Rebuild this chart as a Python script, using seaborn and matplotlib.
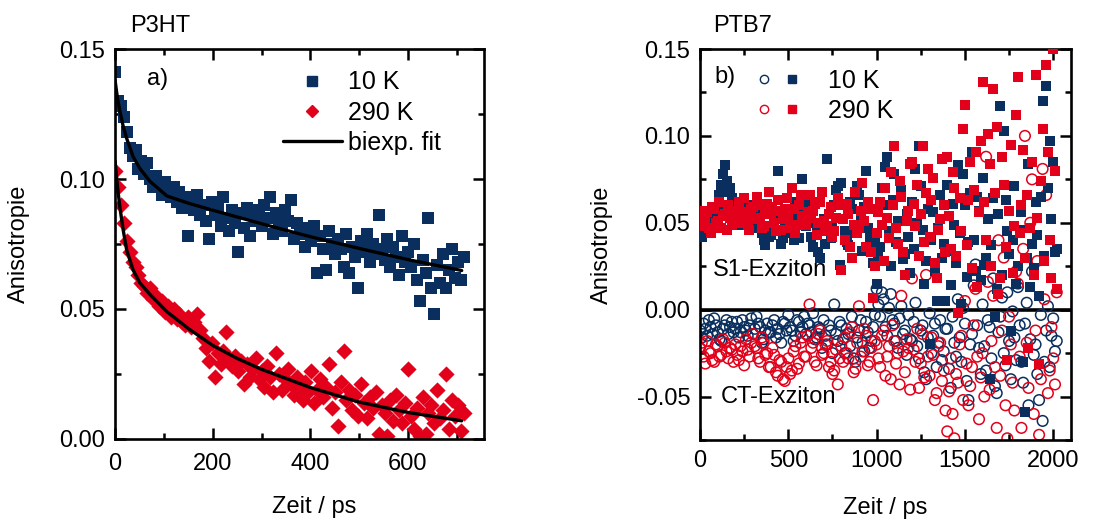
import numpy as np
import matplotlib
matplotlib.use("Agg")
import matplotlib.pyplot as plt
from matplotlib.lines import Line2D
from matplotlib.legend_handler import HandlerTuple
from matplotlib.ticker import MultipleLocator, FormatStrFormatter
import seaborn as sns

### Daten: P3HT (Panel a) ###
t_a = [0, 6, 12, 18, 24, 30, 36, 42, 48, 54,
       60, 66, 72, 78, 84, 90, 96, 102, 108, 114,
       120, 126, 132, 138, 144, 150, 156, 162, 168, 174,
       180, 186, 192, 198, 204, 210, 216, 222, 228, 234,
       240, 246, 252, 258, 264, 270, 276, 282, 288, 294,
       300, 306, 312, 318, 324, 330, 336, 342, 348, 354,
       360, 366, 372, 378, 384, 390, 396, 402, 408, 414,
       420, 426, 432, 438, 444, 450, 456, 462, 468, 474,
       480, 486, 492, 498, 504, 510, 516, 522, 528, 534,
       540, 546, 552, 558, 564, 570, 576, 582, 588, 594,
       600, 606, 612, 618, 624, 630, 636, 642, 648, 654,
       660, 666, 672, 678, 684, 690, 696, 702, 708, 714]

p3ht_10K = [0.141, 0.130, 0.128, 0.124, 0.118, 0.112, 0.109, 0.111, 0.104, 0.107,
            0.102, 0.106, 0.100, 0.097, 0.101, 0.098, 0.094, 0.099, 0.096, 0.093,
            0.097, 0.091, 0.095, 0.089, 0.093, 0.078, 0.092, 0.088, 0.094, 0.086,
            0.090, 0.084, 0.077, 0.091, 0.086, 0.089, 0.082, 0.093, 0.085, 0.080,
            0.088, 0.083, 0.072, 0.087, 0.081, 0.089, 0.078, 0.086, 0.084, 0.088,
            0.082, 0.090, 0.085, 0.093, 0.079, 0.087, 0.083, 0.080, 0.088, 0.084,
            0.092, 0.077, 0.083, 0.079, 0.081, 0.074, 0.080, 0.076, 0.082, 0.064,
            0.078, 0.073, 0.065, 0.080, 0.075, 0.071, 0.077, 0.073, 0.066, 0.079,
            0.064, 0.074, 0.070, 0.058, 0.076, 0.072, 0.079, 0.068, 0.075, 0.071,
            0.086, 0.073, 0.069, 0.077, 0.066, 0.074, 0.070, 0.063, 0.078, 0.068,
            0.072, 0.066, 0.075, 0.061, 0.053, 0.069, 0.064, 0.085, 0.058, 0.048,
            0.067, 0.060, 0.071, 0.058, 0.065, 0.073, 0.062, 0.068, 0.061, 0.070]

p3ht_290K = [0.103, 0.097, 0.090, 0.083, 0.076, 0.072, 0.068, 0.066, 0.063, 0.060,
             0.059, 0.056, 0.058, 0.054, 0.055, 0.051, 0.053, 0.049, 0.051, 0.047,
             0.050, 0.046, 0.048, 0.045, 0.044, 0.047, 0.043, 0.045, 0.048, 0.042,
             0.039, 0.035, 0.030, 0.037, 0.024, 0.033, 0.029, 0.034, 0.041, 0.031,
             0.028, 0.032, 0.026, 0.030, 0.021, 0.029, 0.024, 0.027, 0.031, 0.023,
             0.026, 0.020, 0.028, 0.024, 0.018, 0.033, 0.025, 0.019, 0.023, 0.027,
             0.021, 0.017, 0.024, 0.020, 0.015, 0.022, 0.018, 0.026, 0.014, 0.019,
             0.023, 0.016, 0.020, 0.029, 0.012, 0.018, 0.005, 0.022, 0.034, 0.015,
             0.019, 0.011, 0.017, 0.009, 0.021, 0.014, 0.008, 0.016, 0.012, 0.018,
             0.002, 0.013, 0.010, 0.001, 0.015, 0.007, 0.017, 0.011, 0.006, 0.014,
             0.027, 0.009, 0.004, 0.012, 0.001, 0.016, 0.002, 0.010, 0.013, 0.006,
             0.019, 0.008, 0.011, 0.025, 0.004, 0.015, 0.009, 0.013, 0.003, 0.010]

# biexponentieller Fit
t_fit = [0, 5, 10, 17, 24, 37, 51, 72, 106, 150, 200, 250, 300, 400, 500, 600, 710]
fit_10K = [0.138, 0.131, 0.126, 0.120, 0.1155, 0.1086, 0.104, 0.099, 0.0935, 0.0907,
           0.0880, 0.0854, 0.0828, 0.0778, 0.0733, 0.0690, 0.0648]
fit_290K = [0.107, 0.097, 0.089, 0.080, 0.0725, 0.065, 0.060, 0.0555, 0.049, 0.0425,
            0.0360, 0.0310, 0.0268, 0.0198, 0.0142, 0.0102, 0.0070]

### Daten: PTB7 (Panel b), 10 ps Raster ###
t_b = [0, 10, 20, 30, 40, 50, 60, 70, 80, 90, 100, 110, 120, 130, 140, 150, 160, 170, 180, 190,
       200, 210, 220, 230, 240, 250, 260, 270, 280, 290, 300, 310, 320, 330, 340, 350, 360, 370, 380, 390,
       400, 410, 420, 430, 440, 450, 460, 470, 480, 490, 500, 510, 520, 530, 540, 550, 560, 570, 580, 590,
       600, 610, 620, 630, 640, 650, 660, 670, 680, 690, 700, 710, 720, 730, 740, 750, 760, 770, 780, 790,
       800, 810, 820, 830, 840, 850, 860, 870, 880, 890, 900, 910, 920, 930, 940, 950, 960, 970, 980, 990,
       1000, 1010, 1020, 1030, 1040, 1050, 1060, 1070, 1080, 1090,
       1100, 1110, 1120, 1130, 1140, 1150, 1160, 1170, 1180, 1190,
       1200, 1210, 1220, 1230, 1240, 1250, 1260, 1270, 1280, 1290,
       1300, 1310, 1320, 1330, 1340, 1350, 1360, 1370, 1380, 1390,
       1400, 1410, 1420, 1430, 1440, 1450, 1460, 1470, 1480, 1490,
       1500, 1510, 1520, 1530, 1540, 1550, 1560, 1570, 1580, 1590,
       1600, 1610, 1620, 1630, 1640, 1650, 1660, 1670, 1680, 1690,
       1700, 1710, 1720, 1730, 1740, 1750, 1760, 1770, 1780, 1790,
       1800, 1810, 1820, 1830, 1840, 1850, 1860, 1870, 1880, 1890,
       1900, 1910, 1920, 1930, 1940, 1950, 1960, 1970, 1980, 1990,
       2000, 2010, 2020]

# S1-Exziton (gefuellte Quadrate)
s1_10K = [0.047, 0.042, 0.052, 0.049, 0.045, 0.051, 0.055, 0.053, 0.050, 0.057,
          0.058, 0.066, 0.072, 0.078, 0.083, 0.074, 0.068, 0.070, 0.064, 0.059,
          0.055, 0.061, 0.049, 0.053, 0.058, 0.063, 0.052, 0.056, 0.060, 0.050,
          0.047, 0.055, 0.054, 0.048, 0.051, 0.044, 0.040, 0.037, 0.046, 0.042,
          0.043, 0.048, 0.056, 0.052, 0.080, 0.045, 0.038, 0.041, 0.050, 0.055,
          0.044, 0.047, 0.058, 0.040, 0.062, 0.053, 0.041, 0.057, 0.075, 0.049,
          0.048, 0.060, 0.055, 0.042, 0.036, 0.050, 0.044, 0.033, 0.030, 0.046,
          0.052, 0.038, 0.087, 0.055, 0.041, 0.048, 0.060, 0.069, 0.071, 0.026,
          0.073, 0.052, 0.045, 0.039, 0.037, 0.062, 0.058, 0.044, 0.049, 0.071,
          0.066, 0.051, 0.034, 0.059, 0.080, 0.047, 0.042, 0.035, 0.027, 0.040,
          0.015, 0.031, 0.036, 0.070, 0.060, 0.082, 0.088, 0.045, 0.025, 0.063,
          0.078, 0.039, 0.051, 0.074, 0.069, 0.029, 0.032, 0.055, 0.042, 0.021,
          0.062, 0.035, 0.081, 0.050, 0.094, 0.071, 0.046, 0.015, 0.028, 0.058,
          -0.020, 0.040, 0.056, 0.022, 0.005, 0.047, 0.066, 0.030, 0.038, 0.005,
          0.072, 0.034, 0.014, 0.061, 0.049, 0.027, 0.083, 0.044, 0.003, 0.078,
          0.060, 0.019, 0.039, 0.067, 0.091, 0.040, 0.022, 0.065, 0.057, 0.017,
          0.076, 0.026, 0.030, 0.052, -0.040, 0.037, 0.064, -0.004, 0.012, 0.055,
          0.117, 0.020, 0.103, 0.063, 0.045, 0.032, -0.012, 0.040, 0.071, 0.015,
          0.025, 0.046, 0.056, -0.030, -0.059, 0.030, 0.084, 0.013, 0.038, 0.024,
          0.062, 0.043, 0.008, 0.065, 0.120, 0.031, 0.129, 0.070, 0.097, 0.052,
          0.085, 0.033, 0.035]

s1_290K = [0.052, 0.057, 0.048, 0.053, 0.056, 0.047, 0.044, 0.059, 0.058, 0.050,
           0.051, 0.062, 0.047, 0.054, 0.055, 0.046, 0.060, 0.053, 0.049, 0.057,
           0.057, 0.051, 0.062, 0.056, 0.050, 0.064, 0.054, 0.049, 0.046, 0.058,
           0.059, 0.052, 0.065, 0.060, 0.053, 0.047, 0.048, 0.055, 0.061, 0.068,
           0.055, 0.059, 0.050, 0.045, 0.063, 0.057, 0.046, 0.052, 0.058, 0.064,
           0.052, 0.047, 0.070, 0.058, 0.044, 0.049, 0.060, 0.066, 0.054, 0.050,
           0.049, 0.056, 0.066, 0.053, 0.057, 0.061, 0.043, 0.050, 0.062, 0.068,
           0.051, 0.045, 0.048, 0.055, 0.059, 0.042, 0.045, 0.053, 0.064, 0.060,
           0.023, 0.052, 0.040, 0.061, 0.055, 0.036, 0.030, 0.049, 0.068, 0.044,
           0.047, 0.057, 0.073, 0.051, 0.036, 0.062, 0.058, 0.033, 0.007, 0.025,
           0.044, 0.056, 0.062, 0.049, 0.028, 0.070, 0.053, 0.041, 0.079, 0.060,
           0.094, 0.047, 0.038, 0.074, 0.065, 0.033, 0.020, 0.051, 0.057, 0.084,
           0.085, 0.061, 0.048, 0.072, 0.031, 0.055, 0.094, 0.039, 0.067, 0.081,
           0.042, 0.063, 0.076, 0.027, 0.018, 0.046, 0.052, 0.087, 0.060, 0.033,
           0.088, 0.054, 0.035, 0.079, 0.070, 0.031, -0.002, 0.064, 0.045, 0.104,
           0.118, 0.037, 0.063, 0.085, 0.024, 0.069, 0.091, 0.013, 0.056, 0.097,
           0.131, 0.062, 0.040, 0.101, 0.084, 0.025, 0.127, 0.067, 0.105, 0.009,
           0.018, 0.088, 0.072, 0.036, -0.029, 0.057, 0.095, 0.021, 0.048, 0.112,
           0.134, 0.044, 0.060, 0.092, 0.030, 0.066, -0.022, 0.047, 0.085, 0.020,
           0.135, 0.053, -0.031, 0.074, 0.104, 0.028, 0.141, 0.091, 0.040, 0.018,
           0.150, 0.080, 0.012]

# CT-Exziton (offene Kreise)
ct_10K = [-0.012, -0.016, -0.008, -0.011, -0.015, -0.006, -0.010, -0.014, -0.005, -0.009,
          -0.013, -0.017, -0.018, -0.011, -0.009, -0.006, -0.014, -0.010, -0.007, -0.013,
          -0.011, -0.007, -0.016, -0.013, -0.006, -0.010, -0.012, -0.015, -0.009, -0.005,
          -0.014, -0.011, -0.004, -0.008, -0.010, -0.019, -0.017, -0.012, -0.008, -0.013,
          -0.013, -0.009, -0.006, -0.016, -0.011, -0.014, -0.019, -0.007, -0.008, -0.012,
          -0.003, -0.010, -0.012, -0.018, -0.015, -0.006, -0.007, -0.013, -0.010, -0.004,
          -0.014, -0.008, -0.009, -0.013, -0.002, -0.017, -0.016, -0.010, -0.011, -0.022,
          -0.006, -0.015, -0.020, -0.009, -0.012, -0.025, 0.003, -0.014, -0.018, -0.007,
          -0.009, -0.017, -0.025, -0.011, -0.014, -0.021, -0.004, -0.028, -0.030, -0.016,
          -0.012, -0.006, -0.019, -0.024, -0.007, -0.013, -0.022, -0.018, -0.010, -0.003,
          0.012, 0.003, -0.004, 0.010, 0.006, -0.010, -0.015, 0.001, 0.009, -0.006,
          -0.008, -0.018, -0.022, -0.005, 0.002, -0.014, -0.012, -0.026, -0.003, -0.017,
          -0.018, -0.007, 0.004, -0.021, -0.028, -0.012, -0.009, -0.036, -0.040, -0.016,
          -0.002, -0.025, -0.015, -0.008, -0.033, -0.019, -0.006, -0.029, -0.024, -0.011,
          -0.011, -0.034, -0.045, -0.004, -0.019, -0.027, 0.006, -0.016, -0.030, 0.001,
          -0.008, -0.041, -0.052, -0.020, -0.014, 0.014, 0.026, -0.009, -0.022, -0.037,
          0.003, -0.021, -0.035, -0.006, -0.010, -0.028, 0.018, -0.044, -0.048, -0.013,
          -0.004, 0.007, -0.025, -0.032, 0.010, -0.018, -0.040, -0.001, -0.016, -0.029,
          0.013, -0.009, -0.030, -0.042, -0.008, 0.004, -0.055, -0.017, 0.022, -0.026,
          -0.020, -0.037, -0.052, -0.003, -0.064, -0.030, -0.012, 0.002, -0.033, -0.015,
          -0.005, -0.024, -0.018]

ct_290K = [-0.022, -0.019, -0.027, -0.031, -0.018, -0.024, -0.025, -0.029, -0.030, -0.020,
           -0.021, -0.027, -0.026, -0.017, -0.019, -0.024, -0.028, -0.022, -0.023, -0.030,
           -0.020, -0.026, -0.029, -0.021, -0.024, -0.032, -0.017, -0.023, -0.027, -0.019,
           -0.014, -0.021, -0.022, -0.028, -0.030, -0.016, -0.019, -0.026, -0.025, -0.033,
           -0.033, -0.022, -0.026, -0.036, -0.038, -0.029, -0.030, -0.040, -0.041, -0.033,
           -0.028, -0.037, -0.035, -0.024, -0.021, -0.034, -0.031, -0.019, -0.016, -0.027,
           -0.027, -0.015, 0.003, -0.022, -0.019, -0.030, -0.032, -0.014, -0.012, -0.026,
           -0.025, -0.020, -0.018, -0.033, -0.030, -0.037, -0.035, -0.023, -0.043, -0.028,
           -0.021, -0.030, -0.016, -0.025, -0.028, -0.013, -0.010, -0.036, -0.034, -0.019,
           0.002, -0.027, -0.024, -0.011, -0.015, -0.032, -0.030, -0.022, -0.052, -0.018,
           -0.020, -0.028, -0.033, -0.015, -0.012, -0.038, -0.027, -0.021, -0.040, -0.009,
           -0.018, -0.031, -0.025, -0.043, 0.008, -0.024, -0.036, -0.017, -0.022, -0.046,
           0.018, -0.023, -0.030, -0.011, -0.045, -0.031, -0.014, -0.039, 0.020, -0.027,
           -0.038, -0.016, -0.026, -0.052, -0.048, -0.021, -0.019, -0.041, -0.035, -0.058,
           -0.070, -0.047, -0.028, -0.060, -0.074, -0.037, -0.042, -0.020, -0.015, -0.052,
           0.005, -0.031, -0.055, -0.044, -0.033, -0.009, 0.012, -0.027, -0.063, -0.039,
           -0.025, -0.050, 0.088, 0.016, -0.046, -0.018, 0.008, -0.033, -0.068, 0.040,
           -0.038, -0.012, 0.030, -0.055, -0.074, -0.004, -0.020, -0.042, -0.058, 0.022,
           0.015, -0.027, -0.068, 0.035, 0.100, -0.019, -0.045, 0.050, 0.075, -0.060,
           -0.012, 0.028, -0.072, -0.040, 0.081, 0.006, 0.066, -0.048, -0.035, -0.010,
           -0.028, -0.043, 0.010]

NAVY = "#0a2f5e"
RED = "#e2001a"

sns.set_style("ticks")
plt.rcParams["font.family"] = ["Liberation Sans", "DejaVu Sans"]
plt.rcParams["axes.unicode_minus"] = False
plt.rcParams["font.size"] = 17
plt.rcParams["text.color"] = "black"
plt.rcParams["axes.labelcolor"] = "black"
plt.rcParams["xtick.color"] = "black"
plt.rcParams["ytick.color"] = "black"


def style_axes(ax, xmajor, xminor, xpad):
    # Ticks innen auf allen vier Seiten
    ax.tick_params(which="both", direction="in", top=True, right=True, width=1.8,
                   labelsize=17, colors="black")
    ax.tick_params(which="major", length=8)
    ax.tick_params(which="minor", length=4.5)
    ax.tick_params(axis="x", pad=xpad)
    ax.tick_params(axis="y", pad=7)
    ax.xaxis.set_major_locator(MultipleLocator(xmajor))
    ax.xaxis.set_minor_locator(MultipleLocator(xminor))
    ax.yaxis.set_major_locator(MultipleLocator(0.05))
    ax.yaxis.set_minor_locator(MultipleLocator(0.025))
    ax.yaxis.set_major_formatter(FormatStrFormatter("%.2f"))
    for sp in ax.spines.values():
        sp.set_linewidth(1.9)
        sp.set_color("black")
        sp.set_visible(True)


fig = plt.figure(figsize=(11.17, 5.27), dpi=100)
ax1 = fig.add_axes([0.103, 0.167, 0.330, 0.740])
ax2 = fig.add_axes([0.6267, 0.165, 0.332, 0.742])

### Panel a) P3HT ###
sns.scatterplot(x=t_a, y=p3ht_10K, ax=ax1, marker="s", s=68, color=NAVY,
                linewidth=0, zorder=2)
sns.scatterplot(x=t_a, y=p3ht_290K, ax=ax1, marker="D", s=68, color=RED,
                linewidth=0, zorder=2)
sns.lineplot(x=t_fit, y=fit_10K, ax=ax1, color="black", lw=2.4, sort=False, zorder=3)
sns.lineplot(x=t_fit, y=fit_290K, ax=ax1, color="black", lw=2.4, sort=False, zorder=3)

ax1.set_xlim(0, 755)
ax1.set_ylim(0, 0.15)
style_axes(ax1, 200, 100, 10)
ax1.set_xlabel("Zeit / ps", fontsize=17)
ax1.set_ylabel("Anisotropie", fontsize=17)
ax1.xaxis.set_label_coords(0.54, -0.145)
ax1.yaxis.set_label_coords(-0.23, 0.5)
ax1.text(0.04, 1.03, "P3HT", transform=ax1.transAxes, fontsize=17, va="bottom")
ax1.text(0.087, 0.923, "a)", transform=ax1.transAxes, fontsize=17, va="center")

handles_a = [Line2D([], [], marker="s", ls="none", color=NAVY, markersize=6.5),
             Line2D([], [], marker="D", ls="none", color=RED, markersize=6),
             Line2D([], [], color="black", lw=2.4)]
ax1.legend(handles_a, ["10 K", "290 K", "biexp. fit"], loc="upper left",
           bbox_to_anchor=(0.455, 0.945), frameon=False, fontsize=18,
           handlelength=2.36, handletextpad=0.25, labelspacing=0.25,
           borderpad=0, borderaxespad=0)

### Panel b) PTB7 ###
ax2.axhline(0, color="black", lw=2.6, zorder=1)
sns.scatterplot(x=t_b, y=ct_10K, ax=ax2, marker="o", s=58, color=NAVY,
                facecolor="none", edgecolor=NAVY, linewidth=1.1, zorder=2)
sns.scatterplot(x=t_b, y=ct_290K, ax=ax2, marker="o", s=58, color=RED,
                facecolor="none", edgecolor=RED, linewidth=1.1, zorder=2)
sns.scatterplot(x=t_b, y=s1_10K, ax=ax2, marker="s", s=62, color=NAVY,
                linewidth=0, zorder=3)
sns.scatterplot(x=t_b, y=s1_290K, ax=ax2, marker="s", s=62, color=RED,
                linewidth=0, zorder=3)

ax2.set_xlim(0, 2100)
ax2.set_ylim(-0.075, 0.15)
style_axes(ax2, 500, 250, 7)
ax2.set_xlabel("Zeit / ps", fontsize=17)
ax2.set_ylabel("Anisotropie", fontsize=17)
ax2.xaxis.set_label_coords(0.5, -0.145)
ax2.yaxis.set_label_coords(-0.235, 0.5)
ax2.text(0.035, 1.03, "PTB7", transform=ax2.transAxes, fontsize=17, va="bottom")
ax2.text(0.04, 0.928, "b)", transform=ax2.transAxes, fontsize=17, va="center")
ax2.text(0.035, 0.435, "S1-Exziton", transform=ax2.transAxes, fontsize=17, va="center")
ax2.text(0.057, 0.11, "CT-Exziton", transform=ax2.transAxes, fontsize=17, va="center")

open_10 = Line2D([], [], marker="o", ls="none", mfc="none", mec=NAVY, mew=1.0, markersize=6)
open_290 = Line2D([], [], marker="o", ls="none", mfc="none", mec=RED, mew=1.0, markersize=6)
fill_10 = Line2D([], [], marker="s", ls="none", color=NAVY, markersize=6)
fill_290 = Line2D([], [], marker="s", ls="none", color=RED, markersize=6)
ax2.legend([(open_10, fill_10), (open_290, fill_290)], ["10 K", "290 K"],
           handler_map={tuple: HandlerTuple(ndivide=None, pad=0)},
           loc="upper left", bbox_to_anchor=(0.135, 0.95), frameon=False,
           fontsize=18, handlelength=2.24, handletextpad=0.88, labelspacing=0.25,
           borderpad=0, borderaxespad=0)

fig.savefig("out.png", dpi=100)
